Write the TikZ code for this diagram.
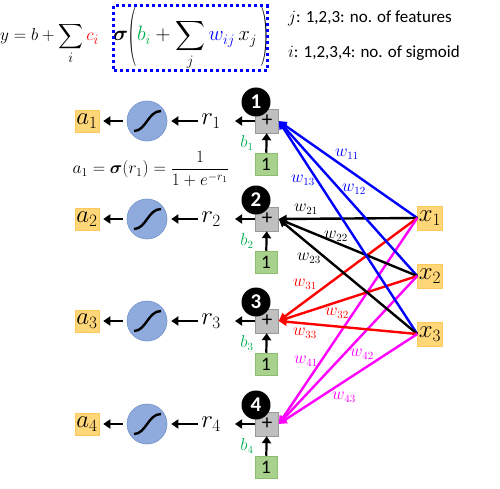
\documentclass[tikz,border=0pt]{standalone}
\usepackage{amsmath}
\usepackage{graphicx}
\usepackage{fontspec}
\setmainfont{Carlito}
\usetikzlibrary{arrows.meta,calc}
\definecolor{wblue}{RGB}{0,0,255}
\definecolor{wred}{RGB}{255,0,0}
\definecolor{wmag}{RGB}{255,0,255}
\definecolor{bgreen}{RGB}{0,176,80}
\definecolor{gfill}{RGB}{169,209,142}
\definecolor{gdraw}{RGB}{140,190,110}
\definecolor{yfill}{RGB}{255,214,120}
\definecolor{ydraw}{RGB}{255,200,90}
\definecolor{sfill}{RGB}{143,170,220}
\definecolor{sdraw}{RGB}{114,147,203}
\definecolor{pfill}{RGB}{191,191,191}
\newcommand{\myparL}{\mathopen{\raisebox{-11pt}{\scalebox{1.2}[2.9]{$($}}}}
\newcommand{\myparR}{\mathclose{\raisebox{-11pt}{\scalebox{1.2}[2.9]{$)$}}}}
\tikzset{
  plusbox/.style={rectangle,fill=pfill,draw=pfill!80!black,line width=0.4pt,minimum width=23pt,minimum height=24pt,inner sep=0pt,font=\fontsize{21}{21}\selectfont},
  onebox/.style={rectangle,fill=gfill,draw=gdraw,line width=0.5pt,minimum width=22pt,minimum height=22pt,inner sep=0pt,font=\fontsize{19}{19}\selectfont},
  abox/.style={rectangle,fill=yfill,draw=ydraw,line width=0.5pt,minimum width=24pt,minimum height=22pt,inner sep=0pt,font=\fontsize{23}{23}\selectfont},
  xbox/.style={rectangle,fill=yfill,draw=ydraw,line width=0.5pt,minimum width=25pt,minimum height=24pt,inner sep=0pt,font=\fontsize{23}{23}\selectfont},
  numc/.style={circle,fill=black,minimum size=29pt,inner sep=0pt,text=white,font=\fontsize{21}{21}\selectfont\bfseries},
  sig/.style={circle,fill=sfill,draw=sdraw,line width=0.6pt,minimum size=40pt,inner sep=0pt},
  arr/.style={line width=2.2pt,-{Triangle[length=7pt,width=9pt]}},
  wedge/.style={line width=2.4pt,-{Triangle[length=8pt,width=8pt]}},
  wl/.style={inner sep=0pt,font=\fontsize{16}{16}\selectfont},
  rl/.style={inner sep=0pt,font=\fontsize{23}{23}\selectfont},
  bl/.style={inner sep=0pt,text=bgreen,font=\fontsize{16}{16}\selectfont},
}
\begin{document}
\begin{tikzpicture}[x=1pt,y=-1pt]
\useasboundingbox (0,0) rectangle (500,489);
% equation
\node[anchor=base west,inner sep=0pt,font=\fontsize{19}{23}\selectfont] (eqL) at (0,41)
  {$\displaystyle y = b + \sum_i {\color{wred}c_i}$};
\node[anchor=base west,inner sep=0pt,font=\fontsize{20}{24}\selectfont] (eqR) at (113,41)
  {$\displaystyle \boldsymbol{\sigma}\myparL{\color{bgreen}b_i} + \sum_j {\color{wblue}w_{ij}}\, x_j\,\myparR$};
\draw[wblue,line width=3pt,dash pattern=on 3pt off 3pt] (113,6) rectangle (267,71);
\node[anchor=west,inner sep=0pt,font=\fontsize{17}{17}\selectfont] (tj) at (288,18) {$j$: 1,2,3: no. of features};
\node[anchor=west,inner sep=0pt,font=\fontsize{17}{17}\selectfont] (ti) at (288,53) {$i$: 1,2,3,4: no. of sigmoid};
\node[inner sep=0pt,font=\fontsize{18}{18}\selectfont] (fm) at (151,169) {$a_1 = \boldsymbol{\sigma}(r_1) = \dfrac{1}{1+e^{-r_1}}$};
% rows
\foreach \i/\y in {1/121,2/219,3/321,4/424}{
  \node[plusbox] (p\i) at (267,\y) {+};
  \node[numc] (n\i) at (256,\y-19) {\i};
  \node[onebox] (o\i) at (266,\y+43) {1};
  \draw[arr] (o\i) -- (p\i);
  \node[bl] (b\i) at (247,\y+22) {$b_\i$};
  \coordinate (e\i) at (235,\y);
  \draw[arr] (p\i.west) -- (e\i);
  \node[rl] (r\i) at (211,\y) {$r_\i$};
  \node[sig] (s\i) at (147,\y) {};
  \draw[line width=2.4pt] ($(s\i)+(-13,10)$) .. controls ($(s\i)+(-1,10)$) and ($(s\i)+(1,-10)$) .. ($(s\i)+(14,-10)$);
  \node[abox] (a\i) at (87,\y) {$a_\i$};
  \draw[arr,shorten <=3pt,shorten >=4pt] (r\i.west) -- (s\i.east);
  \draw[arr,shorten <=4pt,shorten >=4pt] (s\i.west) -- (a\i.east);
}
% inputs
\node[xbox] (x1) at (430,218) {$x_1$};
\node[xbox] (x2) at (430,276) {$x_2$};
\node[xbox] (x3) at (430,334) {$x_3$};
% edges
\foreach \j in {1,2,3}{
  \draw[wedge,wblue] (x\j.west) -- (p1.east);
  \draw[wedge,black] (x\j.west) -- (p2.east);
  \draw[wedge,wred] (x\j.west) -- (p3.east);
  \draw[wedge,wmag] (x\j.west) -- (p4.east);
}
% weight labels
\node[wl,wblue] (w11) at (347,154) {$w_{11}$};
\node[wl,wblue] (w12) at (354,189) {$w_{12}$};
\node[wl,wblue] (w13) at (303,180) {$w_{13}$};
\node[wl] (w21) at (306,209) {$w_{21}$};
\node[wl] (w22) at (336,236) {$w_{22}$};
\node[wl] (w23) at (309,258) {$w_{23}$};
\node[wl,wred] (w31) at (305,284) {$w_{31}$};
\node[wl,wred] (w32) at (337,313) {$w_{32}$};
\node[wl,wred] (w33) at (305,333) {$w_{33}$};
\node[wl,wmag] (w41) at (306,361) {$w_{41}$};
\node[wl,wmag] (w42) at (362,354) {$w_{42}$};
\node[wl,wmag] (w43) at (344,397) {$w_{43}$};
\end{tikzpicture}
\end{document}
